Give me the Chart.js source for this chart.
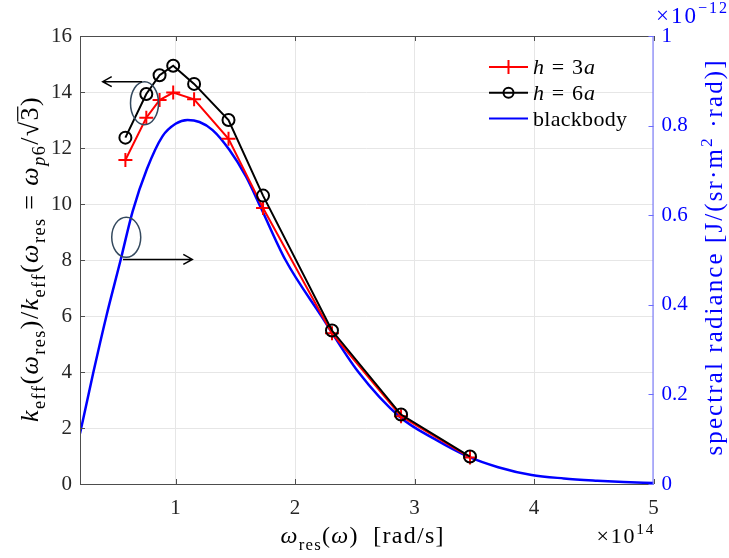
<!DOCTYPE html>
<html lang="en">
<head>
<meta charset="UTF-8">
<title>k_eff vs resonance frequency</title>
<script src="https://cdn.jsdelivr.net/npm/chart.js@4"></script>
<style>
  html, body { margin: 0; padding: 0; background: #fff; }
  #chart { display: block; }
</style>
</head>
<body>
<canvas id="chart" width="729" height="558"></canvas>
<script>
// resonance frequency, x 1e14 rad/s
const resFreq = [0.58, 0.755, 0.866, 0.98, 1.155, 1.443, 1.732, 2.309, 2.887, 3.464];
// normalised k_eff for the two heights
const keffH3 = [11.57, 13.08, 13.71, 13.98, 13.74, 12.33, 9.86, 5.38, 2.42, 0.95];
const keffH6 = [12.37, 13.93, 14.6, 14.94, 14.29, 13.0, 10.3, 5.48, 2.48, 0.98];
// blackbody curve: x 1e14 rad/s, radiance x 1e-12
const bbFreq = [0.2, 0.31, 0.42, 0.54, 0.64, 0.76, 0.89, 1.0, 1.1, 1.2, 1.31, 1.45, 1.59, 1.71,
                1.92, 2.22, 2.53, 2.88, 3.17, 3.45, 3.7, 3.98, 4.25, 4.53, 4.75, 5.0];
const bbRadiance = [0.1125, 0.247, 0.374, 0.5, 0.608, 0.703, 0.776, 0.804, 0.8125, 0.808, 0.79,
                    0.746, 0.686, 0.619, 0.5, 0.375, 0.25, 0.149, 0.1, 0.061, 0.0375, 0.02,
                    0.0125, 0.0075, 0.0044, 0.002];
const xTicks = [1, 2, 3, 4, 5];
const yTicks = [0, 2, 4, 6, 8, 10, 12, 14, 16];
const y2Ticks = [0, 0.2, 0.4, 0.6, 0.8, 1];

const SERIF = '"Liberation Serif", "DejaVu Serif", serif';
const AXIS = '#4d4d4d';
const GRID = '#e6e6e6';
const BLUE = '#0000ff';
const NOTE = '#34495e';

function pts(xs, ys) {
    return xs.map((x, i) => ({ x: x, y: ys[i] }));
}

// tiny rich text: segs of {t, it, lvl (-1 sub, 1 sup), over}
function segFont(s, size) {
    const sz = Math.round((s.lvl ? size * 0.7 : size) * 10) / 10;
    return (s.it ? 'italic ' : '') + sz + 'px ' + SERIF;
}
function richWidth(ctx, segs, size) {
    let w = 0;
    segs.forEach(s => { ctx.font = segFont(s, size); w += ctx.measureText(s.t).width; });
    return w;
}
// text with letter spacing so that it spans tw (when given)
function drawRich(ctx, segs, x, y, size, align, tw) {
    const w = richWidth(ctx, segs, size);
    const n = segs.reduce((k, s) => k + s.t.length, 0);
    const sp = tw ? (tw - w) / Math.max(n - 1, 1) : 0;
    const full = w + sp * (n - 1);
    let cx = x;
    if (align === 'center') cx = x - full / 2;
    if (align === 'right') cx = x - full;
    ctx.textAlign = 'left';
    ctx.textBaseline = 'alphabetic';
    segs.forEach(s => {
        ctx.font = segFont(s, size);
        let dy = 0;
        if (s.lvl === -1) dy = size * 0.28;
        if (s.lvl === 1) dy = -size * 0.42;
        const start = cx;
        for (const ch of s.t) {
            ctx.fillText(ch, cx, y + dy);
            cx += ctx.measureText(ch).width + sp;
        }
        if (s.over) {
            ctx.save();
            ctx.lineWidth = 1.2;
            ctx.strokeStyle = ctx.fillStyle;
            ctx.beginPath();
            ctx.moveTo(start - 1, y - size * 0.78);
            ctx.lineTo(cx - sp + 1, y - size * 0.78);
            ctx.stroke();
            ctx.restore();
        }
    });
}

const yLabel = [
    { t: 'k', it: true }, { t: 'eff', lvl: -1 }, { t: '(' }, { t: 'ω', it: true }, { t: 'res', lvl: -1 },
    { t: ')/' }, { t: 'k', it: true }, { t: 'eff', lvl: -1 }, { t: '(' }, { t: 'ω', it: true },
    { t: 'res', lvl: -1 }, { t: ' = ' }, { t: 'ω', it: true }, { t: 'p', it: true, lvl: -1 },
    { t: '6', lvl: -1 }, { t: '/√' }, { t: '3', over: true }, { t: ')' }
];
const xLabel = [
    { t: 'ω', it: true }, { t: 'res', lvl: -1 }, { t: '(' }, { t: 'ω', it: true }, { t: ')  [rad/s]' }
];
const y2Label = [
    { t: 'spectral radiance [J/(sr·m' }, { t: '2', lvl: 1 }, { t: ' ·rad)]' }
];
const legendRows = [
    { segs: [{ t: 'h', it: true }, { t: ' = 3' }, { t: 'a', it: true }], color: '#ff0000', mark: 'cross', w: 62 },
    { segs: [{ t: 'h', it: true }, { t: ' = 6' }, { t: 'a', it: true }], color: '#000000', mark: 'circle', w: 62 },
    { segs: [{ t: 'blackbody' }], color: BLUE, mark: null, w: 94 }
];

// ellipse notes and arrows, in data units of the left axis
const notes = [
    { cx: 0.74, cy: 13.6, rx: 14, ry: 21.5, ax0: 0.72, ax1: 0.39, ay: 14.37 },
    { cx: 0.587, cy: 8.81, rx: 14.5, ry: 20, ax0: 0.56, ax1: 1.14, ay: 8.02 }
];

function arrow(ctx, x0, y, x1) {
    const d = x1 > x0 ? 1 : -1;
    ctx.beginPath();
    ctx.moveTo(x0, y);
    ctx.lineTo(x1, y);
    ctx.moveTo(x1 - d * 9, y - 5);
    ctx.lineTo(x1, y);
    ctx.lineTo(x1 - d * 9, y + 5);
    ctx.stroke();
}

const framePlugin = {
    id: 'frame',
    afterDatasetsDraw(chart) {
        const { ctx, chartArea: a, scales } = chart;
        ctx.save();
        ctx.lineWidth = 1;
        ctx.strokeStyle = AXIS;
        ctx.beginPath();
        ctx.moveTo(a.left + 0.5, a.top + 0.5);
        ctx.lineTo(a.right, a.top + 0.5);
        ctx.moveTo(a.left + 0.5, a.top);
        ctx.lineTo(a.left + 0.5, a.bottom + 0.5);
        ctx.lineTo(a.right, a.bottom + 0.5);
        // inward ticks
        xTicks.forEach(v => {
            const px = Math.round(scales.x.getPixelForValue(v)) + 0.5;
            ctx.moveTo(px, a.bottom);
            ctx.lineTo(px, a.bottom - 5);
            ctx.moveTo(px, a.top);
            ctx.lineTo(px, a.top + 5);
        });
        yTicks.forEach(v => {
            const py = Math.round(scales.y.getPixelForValue(v)) + 0.5;
            ctx.moveTo(a.left, py);
            ctx.lineTo(a.left + 5, py);
        });
        ctx.stroke();

        ctx.strokeStyle = '#6b6bff';
        ctx.beginPath();
        ctx.moveTo(a.right - 0.5, a.top);
        ctx.lineTo(a.right - 0.5, a.bottom + 1);
        y2Ticks.forEach(v => {
            const py = Math.round(scales.y2.getPixelForValue(v)) + 0.5;
            ctx.moveTo(a.right, py);
            ctx.lineTo(a.right - 5, py);
        });
        ctx.stroke();

        // notes
        ctx.strokeStyle = NOTE;
        ctx.lineWidth = 1.5;
        notes.forEach(n => {
            ctx.beginPath();
            ctx.ellipse(scales.x.getPixelForValue(n.cx), scales.y.getPixelForValue(n.cy), n.rx, n.ry, 0, 0, Math.PI * 2);
            ctx.stroke();
        });
        ctx.strokeStyle = '#000';
        notes.forEach(n => {
            arrow(ctx, scales.x.getPixelForValue(n.ax0), scales.y.getPixelForValue(n.ay), scales.x.getPixelForValue(n.ax1));
        });
        ctx.restore();
    },
    afterDraw(chart) {
        const { ctx, chartArea: a } = chart;
        ctx.save();
        const midY = (a.top + a.bottom) / 2;
        // left title
        ctx.fillStyle = '#000';
        ctx.save();
        ctx.translate(38, midY);
        ctx.rotate(-Math.PI / 2);
        drawRich(ctx, yLabel, 0, 0, 26, 'center', 324);
        ctx.restore();
        // bottom title
        drawRich(ctx, xLabel, 362, 543, 24, 'center', 163);
        drawRich(ctx, [{ t: '×10' }, { t: '14', lvl: 1 }], a.right, 543, 22, 'right', 57);
        // right title
        ctx.fillStyle = BLUE;
        ctx.save();
        ctx.translate(722, 258);
        ctx.rotate(-Math.PI / 2);
        drawRich(ctx, y2Label, 0, 0, 25, 'center', 395);
        ctx.restore();
        drawRich(ctx, [{ t: '×10' }, { t: '−12', lvl: 1 }], 656, 23, 23, 'left', 71);

        // legend
        legendRows.forEach((r, i) => {
            const y = 67 + i * 25.8;
            ctx.strokeStyle = r.color;
            ctx.lineWidth = 2;
            ctx.beginPath();
            ctx.moveTo(489, y);
            ctx.lineTo(528, y);
            ctx.stroke();
            if (r.mark === 'cross') {
                ctx.beginPath();
                ctx.moveTo(508.5, y - 7);
                ctx.lineTo(508.5, y + 7);
                ctx.stroke();
            } else if (r.mark === 'circle') {
                ctx.beginPath();
                ctx.arc(508.5, y, 5, 0, Math.PI * 2);
                ctx.stroke();
            }
            ctx.fillStyle = '#000';
            drawRich(ctx, r.segs, 533, y + 7, 22, 'left', r.w);
        });
        ctx.restore();
    }
};

const tickFont = { family: SERIF, size: 21 };

new Chart(document.getElementById('chart'), {
    type: 'line',
    data: {
        datasets: [
            {
                label: 'h = 6a',
                data: pts(resFreq, keffH6),
                yAxisID: 'y',
                borderColor: '#000000',
                borderWidth: 2,
                pointStyle: 'circle',
                pointRadius: 6,
                pointBorderWidth: 2,
                pointBorderColor: '#000000',
                pointBackgroundColor: 'rgba(0,0,0,0)',
                tension: 0,
                order: 0
            },
            {
                label: 'h = 3a',
                data: pts(resFreq, keffH3),
                yAxisID: 'y',
                borderColor: '#ff0000',
                borderWidth: 2,
                pointStyle: 'cross',
                pointRadius: 7,
                pointBorderWidth: 2,
                pointBorderColor: '#ff0000',
                tension: 0,
                order: 1
            },
            {
                label: 'blackbody',
                data: pts(bbFreq, bbRadiance),
                yAxisID: 'y2',
                borderColor: BLUE,
                borderWidth: 2.5,
                pointRadius: 0,
                cubicInterpolationMode: 'monotone',
                order: 2
            }
        ]
    },
    options: {
        responsive: false,
        animation: false,
        devicePixelRatio: 1,
        layout: { padding: { top: 36, left: 0, right: 0, bottom: 0 } },
        plugins: { legend: { display: false }, tooltip: { enabled: false } },
        scales: {
            x: {
                type: 'linear',
                min: 0.2,
                max: 5,
                afterBuildTicks: s => { s.ticks = xTicks.map(v => ({ value: v })); },
                afterFit: s => { s.height = 74; },
                grid: { color: GRID, drawTicks: false },
                border: { display: false },
                ticks: { font: tickFont, color: '#262626', padding: 12, maxRotation: 0 }
            },
            y: {
                position: 'left',
                min: 0,
                max: 16,
                afterBuildTicks: s => { s.ticks = yTicks.map(v => ({ value: v })); },
                afterFit: s => { s.width = 80; },
                grid: { color: GRID, drawTicks: false },
                border: { display: false },
                ticks: { font: tickFont, color: '#262626', padding: 8 }
            },
            y2: {
                position: 'right',
                min: 0,
                max: 1,
                afterBuildTicks: s => { s.ticks = y2Ticks.map(v => ({ value: v })); },
                afterFit: s => { s.width = 75.5; },
                grid: { display: false, drawTicks: false },
                border: { display: false },
                ticks: { font: tickFont, color: BLUE, padding: 8, callback: v => String(+v.toFixed(1)) }
            }
        }
    },
    plugins: [framePlugin]
});
</script>
</body>
</html>
